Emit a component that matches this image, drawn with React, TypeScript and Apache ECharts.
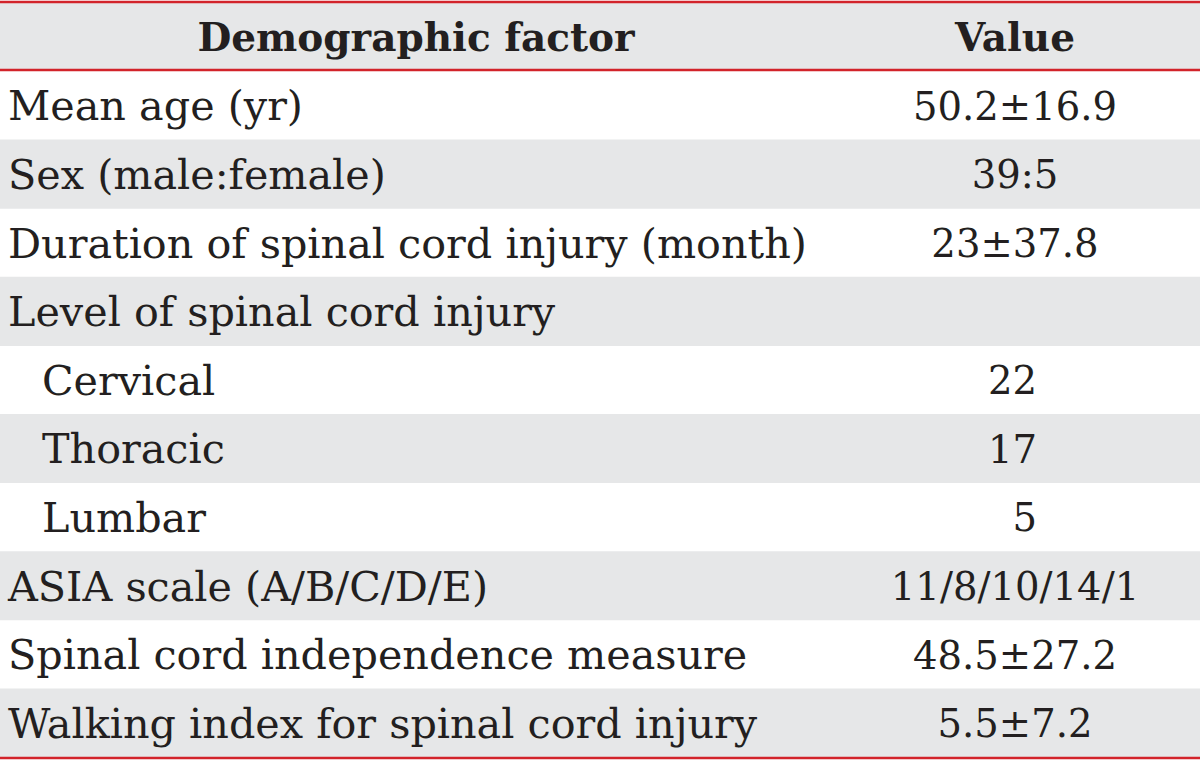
import React, { useEffect, useRef } from "react";
import * as echarts from "echarts";

const headerLabels = ["Demographic factor", "Value"];
const factors = [
  "Mean age (yr)",
  "Sex (male:female)",
  "Duration of spinal cord injury (month)",
  "Level of spinal cord injury",
  "Cervical",
  "Thoracic",
  "Lumbar",
  "ASIA scale (A/B/C/D/E)",
  "Spinal cord independence measure",
  "Walking index for spinal cord injury",
];
const values = ["50.2±16.9", "39:5", "23±37.8", "", "22", "17", "5", "11/8/10/14/1", "48.5±27.2", "5.5±7.2"];
const indented = [false, false, false, false, true, true, true, false, false, false];

const W = 1200;
const H = 761;
const RED = "#d2232a";
const GRAY = "#e6e7e8";
const TEXT = "#231f20";
const FONT = "DejaVu Serif";
const FS_LABEL = 41.3;
const FS_VALUE = 38.6;
const FS_HEAD = 39;

export default function App() {
  const ref = useRef<HTMLDivElement>(null);
  useEffect(() => {
    document.body.style.margin = "0";
    const chart = echarts.init(ref.current!, null, { renderer: "svg" });
    const headerTop = 3;
    const headerBottom = 70;
    const rowsTop = 71;
    const rowsBottom = 757;
    const rowH = (rowsBottom - rowsTop) / factors.length;
    const valueCenter = 1015;
    const els: any[] = [];
    els.push({ type: "rect", shape: { x: 0, y: headerTop, width: W, height: headerBottom - headerTop }, style: { fill: GRAY } });
    factors.forEach((f, i) => {
      const y0 = rowsTop + i * rowH;
      if (i % 2 === 1) {
        els.push({ type: "rect", shape: { x: 0, y: y0, width: W, height: rowH + 0.5 }, style: { fill: GRAY } });
      }
      els.push({
        type: "text",
        x: indented[i] ? 42 : 8,
        y: y0 + rowH / 2 + 1,
        style: { text: f, fill: TEXT, font: `${FS_LABEL}px "${FONT}"`, textAlign: "left", textVerticalAlign: "middle" },
      });
      if (values[i]) {
        const isInt = /^\d+$/.test(values[i]);
        els.push({
          type: "text",
          x: isInt ? 1037 : valueCenter,
          y: y0 + rowH / 2 + 1,
          style: {
            text: values[i], fill: TEXT, font: `${FS_VALUE}px "${FONT}"`,
            textAlign: isInt ? "right" : "center", textVerticalAlign: "middle",
          },
        });
      }
    });
    els.push({
      type: "text", x: 416, y: (headerTop + headerBottom) / 2,
      style: { text: headerLabels[0], fill: TEXT, font: `bold ${FS_HEAD}px "${FONT}"`, textAlign: "center", textVerticalAlign: "middle" },
    });
    els.push({
      type: "text", x: 1015, y: (headerTop + headerBottom) / 2,
      style: { text: headerLabels[1], fill: TEXT, font: `bold ${FS_HEAD}px "${FONT}"`, textAlign: "center", textVerticalAlign: "middle" },
    });
    [2, 70, 758].forEach((y) => {
      els.push({ type: "line", shape: { x1: 0, y1: y, x2: W, y2: y }, style: { stroke: RED, lineWidth: 2.5 } });
    });
    chart.setOption({ animation: false, backgroundColor: "#ffffff", graphic: { elements: els } });
    return () => chart.dispose();
  }, []);
  return <div ref={ref} style={{ width: W, height: H }} />;
}
